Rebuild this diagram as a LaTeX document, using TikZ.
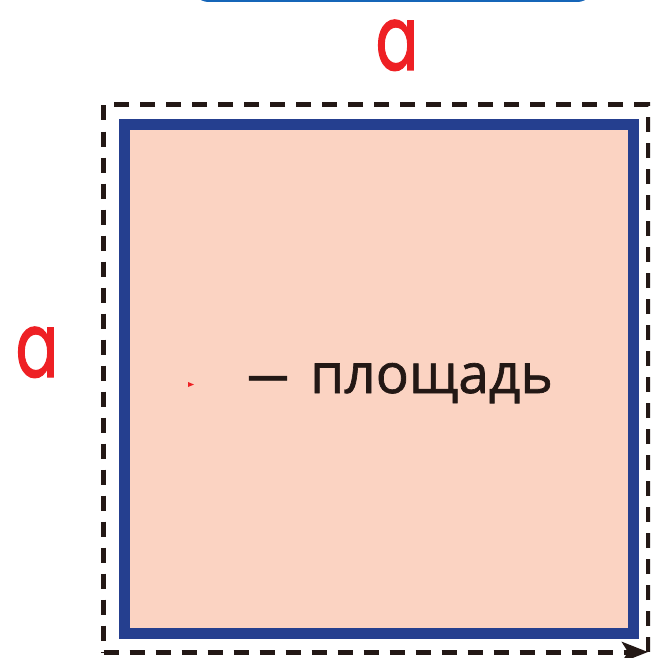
\documentclass[tikz,border=0pt]{standalone}
\usepackage{fontspec}
\newfontfamily\afont[FakeBold=1.5]{Poppins}
\newfontfamily\cyrfont[FakeBold=1.2]{Open Sans}
\usetikzlibrary{arrows.meta}
\definecolor{sqblue}{HTML}{253F8F}
\definecolor{sqfill}{HTML}{FBD3C2}
\definecolor{lblred}{HTML}{EE2024}
\definecolor{txtdark}{HTML}{231815}
\definecolor{barblue}{HTML}{1565B8}
\tikzset{
  dashedframe/.style={draw=txtdark, line width=5pt, dash pattern=on 15pt off 11pt},
  square/.style={draw=sqblue, fill=sqfill, line width=11pt},
  sidelabel/.style={text=lblred, font=\afont\fontsize{90}{90}\selectfont, inner sep=0pt, anchor=base, xscale=0.7, transform shape},
  arealabel/.style={text=txtdark, font=\cyrfont\fontsize{55}{55}\selectfont, inner sep=0pt},
}
\begin{document}
\begin{tikzpicture}[x=1pt,y=-1pt]
\useasboundingbox (0,0) rectangle (650,658);
\clip (0,0) rectangle (650,658);
% top bar
\draw[barblue, line width=3pt, rounded corners=16pt] (193,-40) rectangle (593,0.5);
% dashed frame
\coordinate (bl) at (103.5,652);
\coordinate (tl) at (103.5,105);
\coordinate (tr) at (648,105);
\coordinate (br) at (648,652);
\draw[dashedframe] (br) -- (tr) -- (tl) -- (bl);
\draw[dashedframe, -{Stealth[length=26pt,width=20pt,inset=6pt]}] (bl) -- (br);
% square
\draw[square] (124.5,124.5) rectangle (633,633);
% labels
\node[sidelabel] (top) at (397,70) {a};
\node[sidelabel] (left) at (37,377) {a};
\node[arealabel, anchor=base] (dash) at (268,393) {\scalebox{0.75}[1]{—}};
\node[arealabel, anchor=base west] (area) at (310,393) {площадь};
% small red mark
\fill[lblred] (188,382) -- (194,384.5) -- (188,387) -- cycle;
\end{tikzpicture}
\end{document}
